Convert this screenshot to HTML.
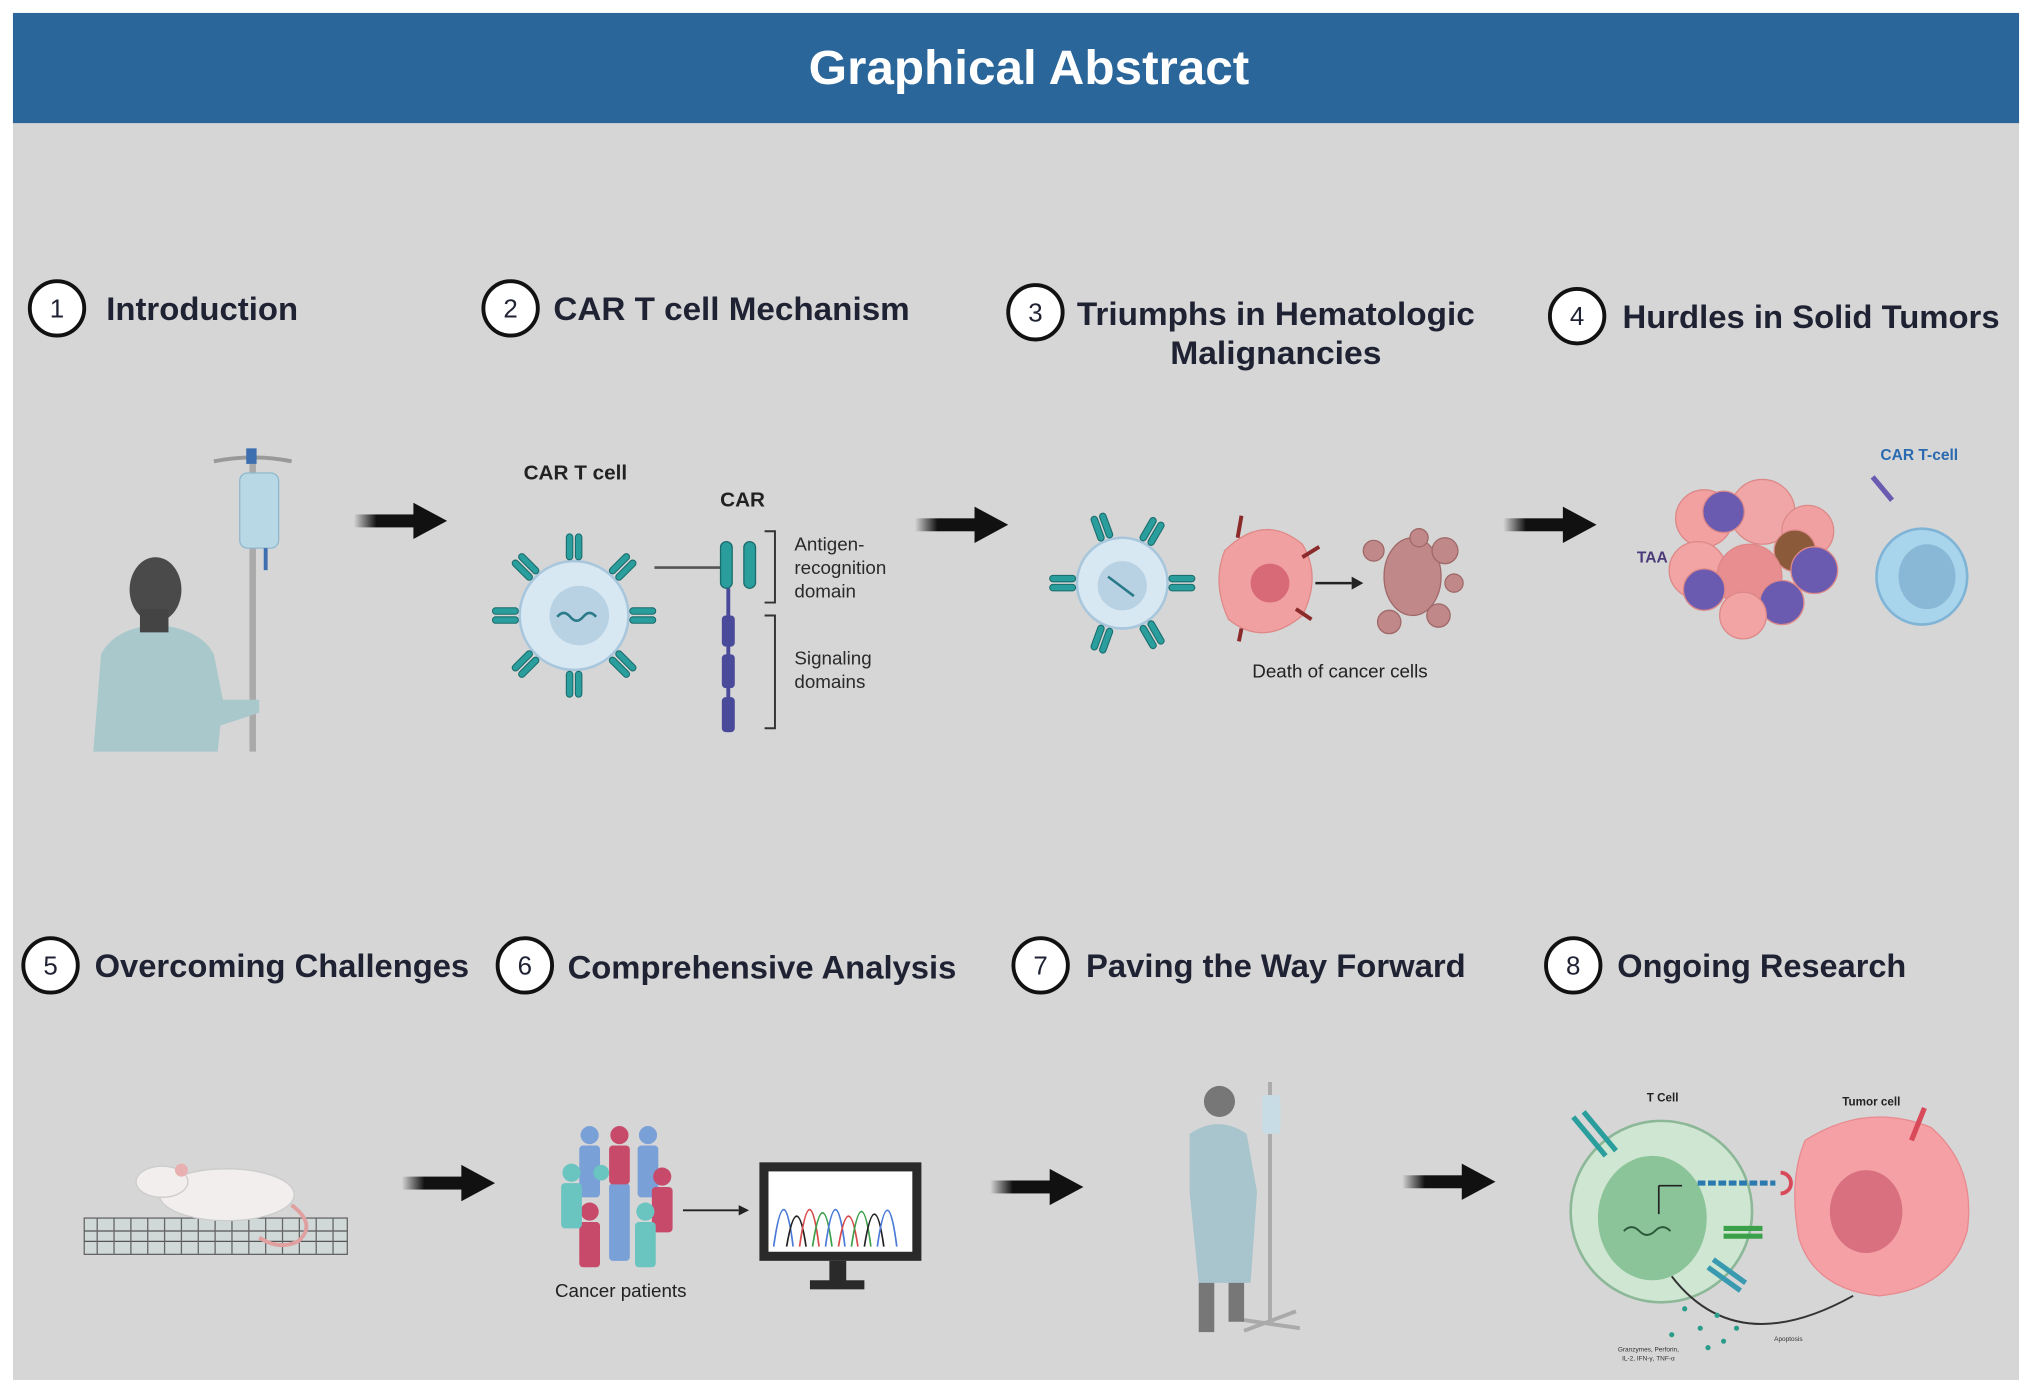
<!DOCTYPE html>
<html><head><meta charset="utf-8"><style>
html,body{margin:0;padding:0;background:#fff;}
svg{display:block;}
text{font-family:"Liberation Sans",sans-serif;}
.h{font-size:25px;font-weight:bold;fill:#1f2233;}
.n{font-size:20px;fill:#1f2233;text-anchor:middle;}
.s{font-size:14.5px;fill:#2a2a2a;}
</style></head><body>
<svg width="2032" height="1393" viewBox="0 0 1568 1075" preserveAspectRatio="none" xmlns="http://www.w3.org/2000/svg">
<defs>
<linearGradient id="ag" x1="0" x2="1"><stop offset="0" stop-color="#111" stop-opacity="0"/><stop offset="0.35" stop-color="#111"/></linearGradient>
<g id="arr"><rect x="0" y="-5" width="50" height="10" fill="url(#ag)"/><polygon points="46,-14 72,0 46,14" fill="#111"/></g>
<g id="rec"><rect x="-6" y="-18" width="5" height="20" rx="2.5" fill="#2a9d9d" stroke="#1a6b6b" stroke-width="0.8"/><rect x="1" y="-18" width="5" height="20" rx="2.5" fill="#2a9d9d" stroke="#1a6b6b" stroke-width="0.8"/></g>
</defs>
<rect x="0" y="0" width="1568" height="1075" fill="#fff"/>
<rect x="10" y="10" width="1548" height="1055" fill="#d6d6d6"/>
<rect x="10" y="10" width="1548" height="85" fill="#2a6699"/>
<text x="794" y="65" text-anchor="middle" font-size="37" font-weight="bold" fill="#fff" textLength="340" lengthAdjust="spacingAndGlyphs">Graphical Abstract</text>

<!-- headings -->
<g fill="#fff" stroke="#111" stroke-width="3">
<circle cx="44" cy="238" r="21"/><circle cx="394" cy="238" r="21"/><circle cx="799" cy="241" r="21"/><circle cx="1217" cy="244" r="21"/>
<circle cx="39" cy="745" r="21"/><circle cx="405" cy="745" r="21"/><circle cx="803" cy="745" r="21"/><circle cx="1214" cy="745" r="21"/>
</g>
<text class="n" x="44" y="245">1</text><text class="n" x="394" y="245">2</text><text class="n" x="799" y="248">3</text><text class="n" x="1217" y="251">4</text>
<text class="n" x="39" y="752">5</text><text class="n" x="405" y="752">6</text><text class="n" x="803" y="752">7</text><text class="n" x="1214" y="752">8</text>
<text class="h" x="82" y="247" textLength="148" lengthAdjust="spacingAndGlyphs">Introduction</text>
<text class="h" x="427" y="247" textLength="275" lengthAdjust="spacingAndGlyphs">CAR T cell Mechanism</text>
<text class="h" x="831" y="251" textLength="307" lengthAdjust="spacingAndGlyphs">Triumphs in Hematologic</text>
<text class="h" x="903" y="281" textLength="163" lengthAdjust="spacingAndGlyphs">Malignancies</text>
<text class="h" x="1252" y="253" textLength="291" lengthAdjust="spacingAndGlyphs">Hurdles in Solid Tumors</text>
<text class="h" x="73" y="754" textLength="289" lengthAdjust="spacingAndGlyphs">Overcoming Challenges</text>
<text class="h" x="438" y="755" textLength="300" lengthAdjust="spacingAndGlyphs">Comprehensive Analysis</text>
<text class="h" x="838" y="754" textLength="293" lengthAdjust="spacingAndGlyphs">Paving the Way Forward</text>
<text class="h" x="1248" y="754" textLength="223" lengthAdjust="spacingAndGlyphs">Ongoing Research</text>

<!-- arrows -->
<use href="#arr" x="273" y="402"/><use href="#arr" x="706" y="405"/><use href="#arr" x="1160" y="405"/>
<use href="#arr" x="310" y="913"/><use href="#arr" x="764" y="916"/><use href="#arr" x="1082" y="912"/>

<!-- 1 patient -->
<line x1="195" y1="355" x2="195" y2="580" stroke="#aaa" stroke-width="5"/>
<path d="M165 356 Q195 350 225 356" stroke="#999" stroke-width="3" fill="none"/>
<rect x="190" y="346" width="8" height="12" fill="#3d6fb0"/>
<rect x="185" y="365" width="30" height="58" rx="6" fill="#b8d8e6" stroke="#8fb8cc"/>
<line x1="205" y1="423" x2="205" y2="440" stroke="#3d6fb0" stroke-width="3"/>
<path d="M72 580 L78 505 Q88 485 120 482 Q155 485 165 505 L172 540 L200 540 L200 550 L170 560 L168 580Z" fill="#a8c8cc"/>
<ellipse cx="120" cy="455" rx="20" ry="25" fill="#4a4a4a"/>
<rect x="108" y="470" width="22" height="18" fill="#444"/>

<!-- 2 CAR T cell -->
<text x="444" y="370" text-anchor="middle" font-size="16" font-weight="bold" fill="#222">CAR T cell</text>
<circle cx="443" cy="475" r="42" fill="#d8e8f2" stroke="#a8c6dc" stroke-width="2"/>
<circle cx="447" cy="475" r="23" fill="#b8d2e4"/>
<path d="M430 476 q5 -6 10 0 t10 0 t10 0" stroke="#2a7a8a" stroke-width="2" fill="none"/>
<g transform="translate(443,475)">
<use href="#rec" transform="rotate(0) translate(0,-45)"/><use href="#rec" transform="rotate(45) translate(0,-45)"/><use href="#rec" transform="rotate(90) translate(0,-45)"/><use href="#rec" transform="rotate(135) translate(0,-45)"/>
<use href="#rec" transform="rotate(180) translate(0,-45)"/><use href="#rec" transform="rotate(225) translate(0,-45)"/><use href="#rec" transform="rotate(270) translate(0,-45)"/><use href="#rec" transform="rotate(315) translate(0,-45)"/>
</g>
<line x1="505" y1="438" x2="558" y2="438" stroke="#555" stroke-width="2"/>
<text x="573" y="391" text-anchor="middle" font-size="16" font-weight="bold" fill="#222">CAR</text>
<rect x="556" y="418" width="9" height="36" rx="4.5" fill="#2a9d9d" stroke="#1a6b6b"/><rect x="574" y="418" width="9" height="36" rx="4.5" fill="#2a9d9d" stroke="#1a6b6b"/>
<line x1="562" y1="454" x2="562" y2="565" stroke="#4a4a9a" stroke-width="3"/>
<rect x="557" y="475" width="10" height="24" rx="3" fill="#4a4a9a"/><rect x="557" y="505" width="10" height="26" rx="3" fill="#4a4a9a"/><rect x="557" y="538" width="10" height="27" rx="3" fill="#4a4a9a"/>
<path d="M590 410 H598 V465 H590 M590 475 H598 V562 H590" stroke="#333" stroke-width="1.5" fill="none"/>
<text class="s" x="613" y="425">Antigen-</text><text class="s" x="613" y="443">recognition</text><text class="s" x="613" y="461">domain</text>
<text class="s" x="613" y="513">Signaling</text><text class="s" x="613" y="531">domains</text>

<!-- 3 -->
<circle cx="866" cy="450" r="35" fill="#d8e8f2" stroke="#a8c6dc" stroke-width="2"/>
<circle cx="866" cy="452" r="19" fill="#b8d2e4"/>
<path d="M855 445 l20 15" stroke="#2a7a8a" stroke-width="2"/>
<g transform="translate(866,450)">
<use href="#rec" transform="rotate(-20) translate(0,-38)"/><use href="#rec" transform="rotate(30) translate(0,-38)"/><use href="#rec" transform="rotate(90) translate(0,-38)"/><use href="#rec" transform="rotate(150) translate(0,-38)"/><use href="#rec" transform="rotate(200) translate(0,-38)"/><use href="#rec" transform="rotate(270) translate(0,-38)"/>
</g>
<path d="M945 425 Q975 395 1005 420 Q1020 445 1005 475 Q975 500 948 478 Q935 450 945 425Z" fill="#f0a0a0" stroke="#e08888"/>
<circle cx="980" cy="450" r="15" fill="#d86a78"/>
<g stroke="#8a2a2a" stroke-width="3"><line x1="955" y1="415" x2="958" y2="398"/><line x1="1005" y1="430" x2="1018" y2="422"/><line x1="1000" y1="470" x2="1012" y2="478"/><line x1="958" y1="485" x2="956" y2="495"/></g>
<line x1="1015" y1="450" x2="1043" y2="450" stroke="#222" stroke-width="2"/><polygon points="1043,445 1052,450 1043,455" fill="#222"/>
<g fill="#c08888" stroke="#a06868"><ellipse cx="1090" cy="445" rx="22" ry="30"/><circle cx="1060" cy="425" r="8"/><circle cx="1115" cy="425" r="10"/><circle cx="1072" cy="480" r="9"/><circle cx="1110" cy="475" r="9"/><circle cx="1095" cy="415" r="7"/><circle cx="1122" cy="450" r="7"/></g>
<text x="1034" y="523" text-anchor="middle" font-size="14.5" fill="#222">Death of cancer cells</text>

<!-- 4 -->
<g stroke="#d88" stroke-width="1">
<circle cx="1315" cy="400" r="22" fill="#f2a0a0"/><circle cx="1360" cy="395" r="25" fill="#f0a6a6"/><circle cx="1330" cy="395" r="16" fill="#6a5ab0"/>
<circle cx="1395" cy="410" r="20" fill="#f0a0a0"/><circle cx="1310" cy="440" r="22" fill="#f2a4a4"/><circle cx="1385" cy="425" r="16" fill="#8a5a3a"/>
<circle cx="1350" cy="445" r="25" fill="#e88e90"/><circle cx="1315" cy="455" r="16" fill="#6a5ab0"/><circle cx="1400" cy="440" r="18" fill="#6a5ab0"/>
<circle cx="1375" cy="465" r="17" fill="#6a5ab0"/><circle cx="1345" cy="475" r="18" fill="#f2a4a4"/>
</g>
<text x="1275" y="434" text-anchor="middle" font-size="12" font-weight="bold" fill="#4a3a7a">TAA</text>
<text x="1481" y="355" text-anchor="middle" font-size="12" font-weight="bold" fill="#2a6ab0">CAR T-cell</text>
<path d="M1445 368 l15 18" stroke="#6a5ab0" stroke-width="4"/>
<ellipse cx="1483" cy="445" rx="35" ry="37" fill="#a8d4ec" stroke="#7fb4d6" stroke-width="2"/>
<ellipse cx="1487" cy="445" rx="22" ry="25" fill="#88b8d6"/>

<!-- 5 mouse -->
<rect x="65" y="940" width="203" height="28" fill="#d0d8d8" stroke="#666"/>
<g stroke="#555" stroke-width="1"><line x1="65" y1="950" x2="268" y2="950"/><line x1="65" y1="958" x2="268" y2="958"/></g>
<g stroke="#666" stroke-width="1">
<line x1="75" y1="940" x2="75" y2="968"/><line x1="88" y1="940" x2="88" y2="968"/><line x1="101" y1="940" x2="101" y2="968"/><line x1="114" y1="940" x2="114" y2="968"/><line x1="127" y1="940" x2="127" y2="968"/><line x1="140" y1="940" x2="140" y2="968"/><line x1="153" y1="940" x2="153" y2="968"/><line x1="166" y1="940" x2="166" y2="968"/><line x1="179" y1="940" x2="179" y2="968"/><line x1="192" y1="940" x2="192" y2="968"/><line x1="205" y1="940" x2="205" y2="968"/><line x1="218" y1="940" x2="218" y2="968"/><line x1="231" y1="940" x2="231" y2="968"/><line x1="244" y1="940" x2="244" y2="968"/><line x1="257" y1="940" x2="257" y2="968"/></g>
<ellipse cx="175" cy="922" rx="52" ry="20" fill="#f2eeee" stroke="#ccc"/>
<ellipse cx="125" cy="912" rx="20" ry="12" fill="#f2eeee" stroke="#ccc"/>
<circle cx="140" cy="903" r="5" fill="#e8b0b0"/>
<path d="M225 930 Q245 945 230 958 Q215 965 200 955" stroke="#e0a0a0" stroke-width="3" fill="none"/>

<!-- 6 people + monitor -->
<g>
<g fill="#7aa0d8"><circle cx="455" cy="876" r="7"/><rect x="447" y="884" width="16" height="40" rx="3"/><circle cx="500" cy="876" r="7"/><rect x="492" y="884" width="16" height="40" rx="3"/><circle cx="478" cy="905" r="7"/><rect x="470" y="913" width="16" height="60" rx="3"/></g>
<g fill="#c84a6a"><circle cx="478" cy="876" r="7"/><rect x="470" y="884" width="16" height="30" rx="3"/><circle cx="455" cy="935" r="7"/><rect x="447" y="943" width="16" height="35" rx="3"/><circle cx="511" cy="908" r="7"/><rect x="503" y="916" width="16" height="35" rx="3"/></g>
<g fill="#6ac4c0"><circle cx="441" cy="905" r="7"/><rect x="433" y="913" width="16" height="35" rx="3"/><circle cx="498" cy="935" r="7"/><rect x="490" y="943" width="16" height="35" rx="3"/><circle cx="464" cy="905" r="6"/></g>
</g>
<text x="479" y="1001" text-anchor="middle" font-size="14.5" fill="#222">Cancer patients</text>
<line x1="527" y1="934" x2="570" y2="934" stroke="#222" stroke-width="1.5"/><polygon points="570,930 578,934 570,938" fill="#222"/>
<rect x="586" y="897" width="125" height="76" fill="#2a2a2a"/><rect x="593" y="904" width="111" height="62" fill="#fff"/>
<rect x="640" y="973" width="13" height="17" fill="#2a2a2a"/><rect x="625" y="988" width="42" height="7" fill="#2a2a2a"/>
<g fill="none" stroke-width="1.3">
<path d="M597 962 Q605 905 612 962" stroke="#4a7ad8"/><path d="M607 962 Q615 915 622 962" stroke="#222"/><path d="M617 962 Q625 905 632 962" stroke="#d84a4a"/><path d="M627 962 Q635 910 642 962" stroke="#3aa04a"/><path d="M637 962 Q645 905 652 962" stroke="#4a7ad8"/><path d="M647 962 Q655 915 662 962" stroke="#d84a4a"/><path d="M657 962 Q665 908 672 962" stroke="#3aa04a"/><path d="M667 962 Q675 912 682 962" stroke="#222"/><path d="M677 962 Q685 906 692 962" stroke="#4a7ad8"/></g>

<!-- 7 patient -->
<line x1="980" y1="835" x2="980" y2="1020" stroke="#aaa" stroke-width="3"/>
<rect x="974" y="845" width="14" height="30" rx="3" fill="#c8dce6"/>
<path d="M955 1018 L1003 1025 M960 1027 L1000 1012" stroke="#aaa" stroke-width="3"/>
<path d="M918 875 Q940 860 962 875 L970 920 L965 990 L925 990 L918 920Z" fill="#a8c4cc"/>
<circle cx="941" cy="850" r="12" fill="#777"/>
<rect x="925" y="990" width="12" height="38" fill="#777"/><rect x="948" y="990" width="12" height="30" fill="#777"/>

<!-- 8 -->
<text x="1283" y="850" text-anchor="middle" font-size="9" font-weight="bold" fill="#222">T Cell</text>
<text x="1444" y="853" text-anchor="middle" font-size="9" font-weight="bold" fill="#222">Tumor cell</text>
<circle cx="1282" cy="935" r="70" fill="#cfe6d2" stroke="#8cb898" stroke-width="2"/>
<ellipse cx="1275" cy="940" rx="42" ry="48" fill="#8cc49a"/>
<path d="M1253 950 q6 -6 12 0 t12 0 t12 0" stroke="#2a5a3a" stroke-width="1.5" fill="none"/>
<path d="M1280 915 h18 M1280 915 v22" stroke="#222" stroke-width="1.3" fill="none"/>
<path d="M1214 862 l25 30 M1222 858 l25 30" stroke="#2a9d9d" stroke-width="4"/>
<line x1="1310" y1="913" x2="1370" y2="913" stroke="#2a7ab0" stroke-width="4" stroke-dasharray="6,2"/>
<path d="M1374 905 a8 8 0 0 1 0 16" stroke="#d84a5a" stroke-width="3" fill="none"/>
<path d="M1330 948 h30 M1330 954 h30" stroke="#3aa04a" stroke-width="4"/>
<path d="M1322 972 l25 18 M1318 978 l25 18" stroke="#3a9ab0" stroke-width="4"/>
<path d="M1393 880 Q1440 850 1490 870 Q1525 900 1518 950 Q1505 995 1450 1000 Q1400 995 1388 955 Q1380 910 1393 880Z" fill="#f4a0a4" stroke="#e88a90"/>
<ellipse cx="1440" cy="935" rx="28" ry="32" fill="#d87080"/>
<path d="M1475 880 l10 -25" stroke="#d84a5a" stroke-width="4"/>
<path d="M1290 985 Q1340 1050 1430 1000" stroke="#333" stroke-width="1.5" fill="none"/>
<g fill="#2a9d8a"><circle cx="1300" cy="1010" r="2"/><circle cx="1312" cy="1025" r="2"/><circle cx="1325" cy="1015" r="2"/><circle cx="1330" cy="1035" r="2"/><circle cx="1290" cy="1030" r="2"/><circle cx="1318" cy="1040" r="2"/><circle cx="1340" cy="1025" r="2"/></g>
<text x="1272" y="1043" text-anchor="middle" font-size="5" fill="#333">Granzymes, Perforin,</text>
<text x="1272" y="1050" text-anchor="middle" font-size="5" fill="#333">IL-2, IFN-γ, TNF-α</text>
<text x="1380" y="1035" text-anchor="middle" font-size="5" fill="#333">Apoptosis</text>
</svg>
</body></html>
